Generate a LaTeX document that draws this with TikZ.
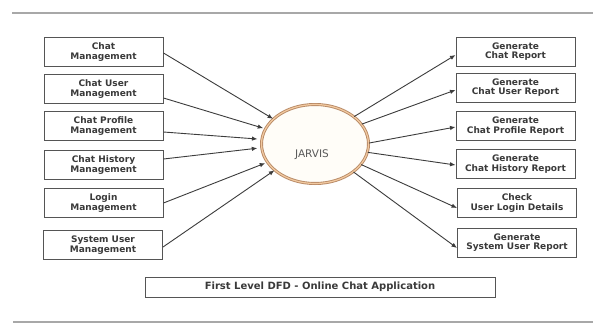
\documentclass[tikz,border=0pt]{standalone}
\usepackage{fontspec}
\setmainfont{DejaVu Sans}
\usetikzlibrary{shapes.geometric,arrows.meta,calc}
\definecolor{boxgray}{HTML}{555555}
\definecolor{linegray}{HTML}{3C3C3C}
\definecolor{textgray}{HTML}{3A3A3A}
\definecolor{rulegray}{HTML}{A8A8A8}
\definecolor{ringdark}{HTML}{B88A66}
\definecolor{ringlight}{HTML}{F2C9A0}
\definecolor{ringfill}{HTML}{FFFDF8}
\begin{document}
\begin{tikzpicture}[x=1pt,y=-1pt,
  procbox/.style={draw=boxgray,line width=1pt,fill=white,minimum width=119pt,minimum height=29pt,inner sep=0pt,align=center,font=\fontsize{9}{9.4}\selectfont\bfseries,text=textgray},
  hub/.style={ellipse,draw=ringdark,double=ringlight,line width=0.9pt,double distance=1.2pt,fill=ringfill,minimum width=107pt,minimum height=79pt,inner sep=0pt},
  hubtext/.style={font=\fontsize{10.5}{12}\selectfont,text=black!65,inner sep=0pt},
  caption/.style={draw=boxgray,line width=1pt,fill=white,minimum width=350pt,minimum height=20pt,inner sep=0pt,font=\fontsize{10}{12}\selectfont\bfseries,text=textgray},
  flow/.style={draw=linegray,line width=0.9pt,-{Latex[length=5.5pt,width=4.5pt]}},
  rulerline/.style={draw=rulegray}
]
\useasboundingbox (0,0) rectangle (593,324);
\fill[white] (0,0) rectangle (593,324);
\draw[rulerline,line width=2.5pt] (12,13) -- (593,13);
\draw[rulerline,line width=2pt] (13,322) -- (593,322);

\node[procbox] (L1) at (103.5,52) {Chat\\Management};
\node[procbox] (L2) at (103.5,89) {Chat User\\Management};
\node[procbox] (L3) at (103.5,126) {Chat Profile\\Management};
\node[procbox] (L4) at (103.5,165) {Chat History\\Management};
\node[procbox] (L5) at (103.5,203) {Login\\Management};
\node[procbox] (L6) at (103,245) {System User\\Management};

\node[procbox] (R1) at (515.5,51.5) {Generate\\Chat Report};
\node[procbox] (R2) at (515.5,87.5) {Generate\\Chat User Report};
\node[procbox] (R3) at (515.5,126) {Generate\\Chat Profile Report};
\node[procbox] (R4) at (515.5,164) {Generate\\Chat History Report};
\node[procbox] (R5) at (517,203) {Check\\User Login Details};
\node[procbox] (R6) at (517,242.5) {Generate\\System User Report};

\node[hub] (J) at (315,144) {};
\node[hubtext] (Jt) at (312,155) {JARVIS};

\node[caption] (C) at (320,287) {First Level DFD - Online Chat Application};

\draw[flow] ($(L1.east)+(0,1)$) -- (J.149);
\draw[flow,shorten >=2pt] ($(L2.east)+(0,9)$) -- (J.163);
\draw[flow,shorten >=4pt] ($(L3.east)+(0,6)$) -- (J.175);
\draw[flow,shorten >=4pt] ($(L4.east)+(0,-6)$) -- (J.184);
\draw[flow,shorten >=2pt] (L5.east) -- (J.201);
\draw[flow] ($(L6.east)+(0,2)$) -- (J.213);

\draw[flow] (J.35) -- ($(R1.west)+(0,3.5)$);
\draw[flow] (J.23) -- ($(R2.west)+(0,2.5)$);
\draw[flow] (J.1) -- ($(R3.west)+(0,1)$);
\draw[flow] (J.-9) -- ($(R4.west)+(0,1)$);
\draw[flow] (J.-24) -- ($(R5.west)+(0,5)$);
\draw[flow] (J.-36) -- ($(R6.west)+(0,5.5)$);
\end{tikzpicture}
\end{document}
